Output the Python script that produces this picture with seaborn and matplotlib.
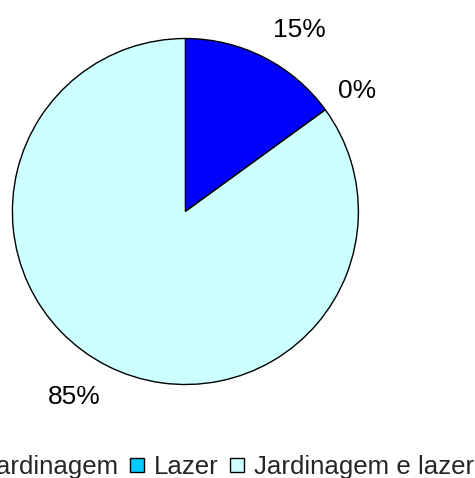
import numpy as np
import seaborn as sns
import matplotlib.pyplot as plt
from matplotlib.lines import Line2D

categories = ['Jardinagem', 'Lazer', 'Jardinagem e lazer']
shares = [15, 0, 85]
colors = ['#0000FF', '#00CCFF', '#CCFFFF']

sns.set_theme(style='white')
plt.rcParams['font.family'] = ['Liberation Sans', 'DejaVu Sans']

fig = plt.figure(figsize=(4.75, 4.78), dpi=100)
fig.patch.set_facecolor('white')

# pie radius 173px, centre at (185, 211) from top-left
ax = fig.add_axes([(185.4 - 216.25) / 475, (266.5 - 216.25) / 478,
                   432.5 / 475, 432.5 / 478])

wedges, texts, autotexts = ax.pie(
    shares, colors=colors, startangle=90, counterclock=False,
    autopct='%1.0f%%', pctdistance=1.24,
    wedgeprops={'edgecolor': 'black', 'linewidth': 1},
    textprops={'fontsize': 19, 'color': 'black'})

# excel-like label placement
label_radius = [1.24, 1.21, 1.25]
label_nudge = [-5, -1, -4]
for w, t, rr, dn in zip(wedges, autotexts, label_radius, label_nudge):
    ang = np.deg2rad((w.theta1 + w.theta2) / 2 + dn)
    t.set_position((rr * np.cos(ang), rr * np.sin(ang)))
    t.set_ha('center')
    t.set_va('center')

ax.set_xlim(-1.25, 1.25)
ax.set_ylim(-1.25, 1.25)
ax.axis('off')

handles = [Line2D([], [], linestyle='none', marker='s', markersize=9.6,
                  markerfacecolor=c, markeredgecolor='black', markeredgewidth=1)
           for c in colors]
fig.legend(handles, categories, loc='center', bbox_to_anchor=(0.456, 0.023),
           ncol=3, frameon=False, fontsize=18.6, handlelength=0.6,
           handletextpad=0.37, columnspacing=0.4, borderpad=0, borderaxespad=0)

fig.savefig('out.png', dpi=100, facecolor='white')
